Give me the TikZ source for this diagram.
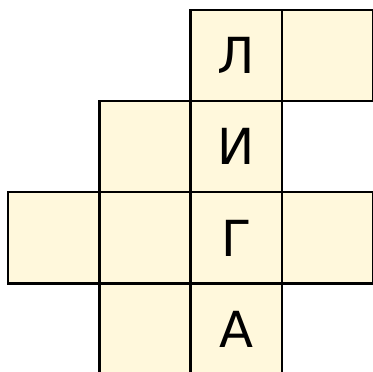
\documentclass[tikz,border=0pt]{standalone}
\usepackage{fontspec}
\newfontfamily\cyrfont{DejaVu Sans}
\usepackage{xcolor}
\usepackage{tikz}
\usetikzlibrary{positioning}

\definecolor{cellfill}{HTML}{FFF8DC}

\begin{document}
\begin{tikzpicture}[
    font=\cyrfont\fontsize{15.5}{18}\selectfont,
    cell/.style={draw=black, fill=cellfill, line width=0.7pt,
      minimum size=1cm, inner sep=0pt, outer sep=0pt, anchor=center},
    node distance=0cm
  ]
    \useasboundingbox (-0.09,0.03) rectangle (3.99,4.11);
    % the word column
    \node[cell] (l) at (2.5,3.5) {Л};
    \node[cell, below=of l] (i) {И};
    \node[cell, below=of i] (g) {Г};
    \node[cell, below=of g] (a) {А};
    % the other cells
    \node[cell, right=of l] (l2) {};
    \node[cell, left=of i] (i1) {};
    \node[cell, left=of g] (g1) {};
    \node[cell, left=of g1] (g0) {};
    \node[cell, right=of g] (g3) {};
    \node[cell, left=of a] (a1) {};
  \end{tikzpicture}
\end{document}
